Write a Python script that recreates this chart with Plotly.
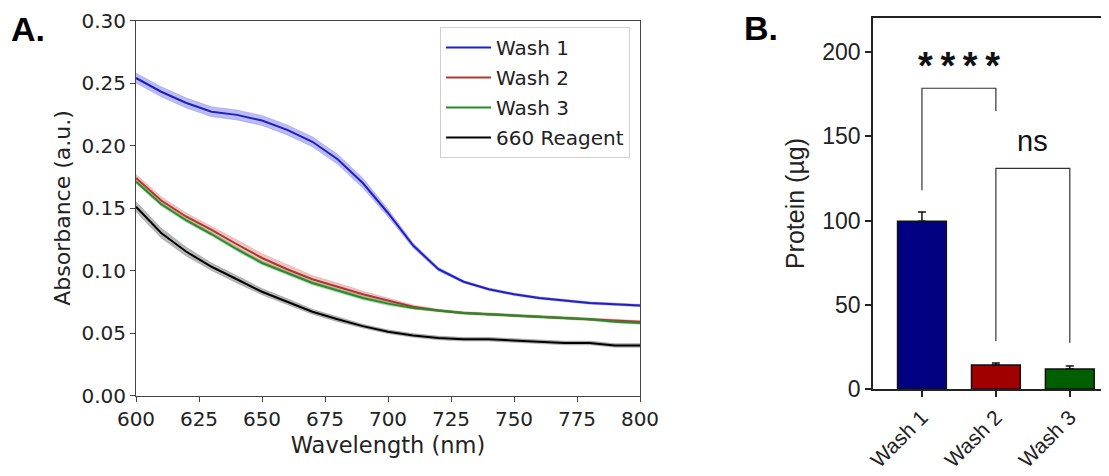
import plotly.graph_objects as go

# ---------------- Panel A data ----------------
wavelength = [600, 610, 620, 630, 640, 650, 660, 670, 680, 690, 700,
              710, 720, 730, 740, 750, 760, 770, 780, 790, 800]
wash1 = [0.254, 0.243, 0.234, 0.227, 0.2245, 0.220, 0.2125, 0.203, 0.189, 0.170, 0.146,
         0.120, 0.101, 0.091, 0.085, 0.081, 0.078, 0.076, 0.074, 0.073, 0.072]
wash1_sd = [0.004, 0.004, 0.004, 0.004, 0.004, 0.004, 0.004, 0.004, 0.004, 0.004, 0.003,
            0.002, 0.0015, 0.001, 0.001, 0.001, 0.001, 0.001, 0.001, 0.001, 0.001]
wash2 = [0.174, 0.156, 0.143, 0.1325, 0.121, 0.110, 0.101, 0.093, 0.087, 0.081, 0.076,
         0.071, 0.068, 0.066, 0.065, 0.064, 0.063, 0.062, 0.061, 0.060, 0.059]
wash2_sd = [0.003, 0.003, 0.003, 0.003, 0.0035, 0.0035, 0.0035, 0.003, 0.003, 0.0025, 0.002,
            0.0015, 0.001, 0.001, 0.001, 0.001, 0.001, 0.001, 0.001, 0.001, 0.001]
wash3 = [0.171, 0.153, 0.140, 0.129, 0.117, 0.106, 0.098, 0.090, 0.084, 0.078, 0.0735,
         0.070, 0.068, 0.066, 0.065, 0.064, 0.063, 0.062, 0.061, 0.059, 0.058]
wash3_sd = [0.0015, 0.0015, 0.0015, 0.0015, 0.0015, 0.0015, 0.0015, 0.0015, 0.0015, 0.0015, 0.0015,
            0.001, 0.001, 0.001, 0.001, 0.001, 0.001, 0.001, 0.001, 0.001, 0.001]
reagent = [0.151, 0.130, 0.115, 0.103, 0.093, 0.083, 0.075, 0.067, 0.061, 0.0555, 0.051,
           0.048, 0.046, 0.045, 0.045, 0.044, 0.043, 0.042, 0.042, 0.040, 0.040]
reagent_sd = [0.004, 0.004, 0.0035, 0.003, 0.003, 0.0025, 0.0025, 0.002, 0.002, 0.0015, 0.0015,
              0.0015, 0.0015, 0.0015, 0.0015, 0.0015, 0.0015, 0.0015, 0.0015, 0.0015, 0.0015]

series_names = ["Wash 1", "Wash 2", "Wash 3", "660 Reagent"]
line_colors = ["#2020c0", "#a83a32", "#2a8a2a", "#000000"]
band_colors = ["rgba(60,60,230,0.35)", "rgba(220,80,80,0.35)",
               "rgba(60,160,60,0.35)", "rgba(0,0,0,0.28)"]

# ---------------- Panel B data ----------------
bar_categories = ["Wash 1", "Wash 2", "Wash 3"]
protein = [99.5, 14.3, 11.9]
protein_err = [5.5, 1.2, 1.8]
bar_colors = ["#000080", "#a00000", "#006000"]

# significance brackets: (left index, right index, top, left leg end, right leg end, label, label y)
brackets = [
    (0, 1, 178.5, 118, 165, "*\u2009*\u2009*\u2009*", 192),
    (1, 2, 131, 28.5, 27.5, "ns", 147),
]

# page layout helpers (the HTML body adds an 8 px margin around the figure)
PAGE_W, PAGE_H, BODY = 1109, 476, 8
FIG_W, FIG_H = PAGE_W - BODY, PAGE_H - BODY


def px_x(x):
    return (x - BODY) / FIG_W


def px_y(y):
    return 1 - (y - BODY) / FIG_H


fig = go.Figure()

means = [wash1, wash2, wash3, reagent]
sds = [wash1_sd, wash2_sd, wash3_sd, reagent_sd]
for name, m, s, lc, bc in zip(series_names, means, sds, line_colors, band_colors):
    upper = [a + b for a, b in zip(m, s)]
    lower = [a - b for a, b in zip(m, s)]
    fig.add_trace(go.Scatter(
        x=wavelength + wavelength[::-1], y=upper + lower[::-1],
        fill="toself", fillcolor=bc, line=dict(width=0.6, color=bc),
        mode="lines", showlegend=False, hoverinfo="skip",
        xaxis="x", yaxis="y"))
for name, m, lc in zip(series_names, means, line_colors):
    fig.add_trace(go.Scatter(
        x=wavelength, y=m, mode="lines", name=name,
        line=dict(color=lc, width=2), legendgroup=name,
        xaxis="x", yaxis="y"))

fig.add_trace(go.Bar(
    x=list(range(len(bar_categories))), y=protein,
    marker=dict(color=bar_colors, line=dict(color="#111111", width=1.5)),
    width=0.66,
    error_y=dict(type="data", symmetric=False, array=protein_err,
                 arrayminus=[0] * len(protein), color="#111111",
                 thickness=1.5, width=4),
    showlegend=False, xaxis="x2", yaxis="y2"))

shapes = []
annotations = []
for li, ri, top, lleg, rleg, label, ly in brackets:
    shapes.append(dict(type="path", xref="x2", yref="y2",
                       path=f"M {li},{lleg} L {li},{top} L {ri},{top} L {ri},{rleg}",
                       line=dict(color="#333333", width=1.2)))
    is_star = label.startswith("*")
    annotations.append(dict(x=(li + ri) / 2, y=ly, xref="x2", yref="y2",
                            text=f"<b>{label}</b>" if is_star else label, showarrow=False,
                            font=dict(family="Liberation Sans", size=38 if is_star else 29,
                                      color="#111111"),
                            xanchor="center", yanchor="middle"))

annotations.append(dict(x=px_x(28), y=px_y(29), xref="paper", yref="paper",
                        text="<b>A.</b>", showarrow=False, xanchor="center", yanchor="middle",
                        font=dict(family="Liberation Sans", size=34, color="#000000")))
annotations.append(dict(x=px_x(761), y=px_y(28), xref="paper", yref="paper",
                        text="<b>B.</b>", showarrow=False, xanchor="center", yanchor="middle",
                        font=dict(family="Liberation Sans", size=34, color="#000000")))

axis_a_common = dict(showgrid=False, zeroline=False, showline=True, mirror=True,
                     linecolor="#444444", linewidth=1, ticks="outside", ticklen=5,
                     tickcolor="#444444", automargin=False,
                     tickfont=dict(family="DejaVu Sans", size=20, color="#222222"))

fig.update_layout(
    width=FIG_W, height=FIG_H,
    margin=dict(l=0, r=0, t=0, b=0),
    paper_bgcolor="white", plot_bgcolor="white",
    xaxis=dict(domain=[px_x(136), px_x(640)], range=[600, 800], dtick=25,
               title=dict(text="Wavelength (nm)", standoff=7,
                          font=dict(family="DejaVu Sans", size=22.5, color="#222222")),
               anchor="y", **axis_a_common),
    yaxis=dict(domain=[px_y(395.5), px_y(20.5)], range=[0, 0.30],
               dtick=0.05, tickformat=".2f",
               title=dict(text="Absorbance (a.u.)", standoff=4,
                          font=dict(family="DejaVu Sans", size=22, color="#222222")),
               anchor="x", **axis_a_common),
    xaxis2=dict(domain=[px_x(873), 1.0], range=[-0.662, 2.53],
                tickmode="array", tickvals=list(range(len(bar_categories))),
                ticktext=bar_categories, tickangle=-45,
                showgrid=False, zeroline=False, showline=True, mirror=True,
                linecolor="#222222", linewidth=1.5, ticks="outside", ticklen=6,
                tickcolor="#222222", tickwidth=1.5, automargin=False,
                tickfont=dict(family="Liberation Sans", size=21, color="#222222"),
                anchor="y2"),
    yaxis2=dict(domain=[px_y(389), px_y(18)], range=[0, 220.2],
                tickvals=[0, 50, 100, 150, 200],
                showgrid=False, zeroline=False, showline=True,
                linecolor="#222222", linewidth=1.5, ticks="outside", ticklen=6,
                tickcolor="#222222", tickwidth=1.5, automargin=False,
                tickfont=dict(family="Liberation Sans", size=23, color="#222222"),
                title=dict(text="Protein (µg)", standoff=11,
                           font=dict(family="Liberation Sans", size=25, color="#222222")),
                anchor="x2"),
    legend=dict(x=px_x(630), y=px_y(27), xanchor="right", yanchor="top",
                bordercolor="#d0d0d0", borderwidth=1, bgcolor="rgba(255,255,255,0.9)",
                font=dict(family="DejaVu Sans", size=20, color="#222222"),
                tracegroupgap=1, itemwidth=45),
    shapes=shapes, annotations=annotations,
)

fig.write_html("out.html")
